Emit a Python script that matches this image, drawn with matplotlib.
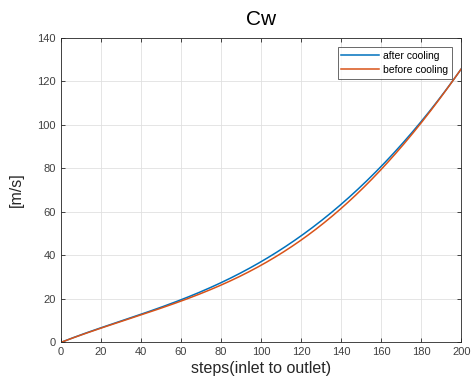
import matplotlib
matplotlib.use('Agg')
import matplotlib.pyplot as plt
import numpy as np

# valores
passos = [0, 20, 40, 60, 80, 100, 120, 140, 160, 180, 200]
cw_depois = [0, 6.1, 12.9, 20.0, 27.4, 36.6, 48.2, 64.0, 81.7, 100.5, 126.0]
cw_antes = [0, 6.0, 12.6, 19.4, 26.1, 35.2, 46.3, 61.9, 80.3, 100.0, 126.0]

plt.rcParams['font.family'] = ['Liberation Sans', 'DejaVu Sans']

cinza = '#262626'
azul = '#0072BD'
laranja = '#D95319'


def suavizar(x, y, n=400):
    # ajuste polinomial entre os pontos lidos (só para desenhar a curva lisa)
    xs = np.linspace(min(x), max(x), n)
    coef = np.polyfit(x, y, 5)
    return xs, np.polyval(coef, xs)


fig = plt.figure(figsize=(4.75, 3.87), dpi=100)
ax = fig.add_axes([0.128, 0.116, 0.843, 0.786])

xa, ya = suavizar(passos, cw_depois)
xb, yb = suavizar(passos, cw_antes)
ax.plot(xa, ya, color=azul, lw=1.1, label='after cooling')
ax.plot(xb, yb, color=laranja, lw=1.1, label='before cooling')

ax.set_xlim(0, 200)
ax.set_ylim(0, 140)
ax.set_xticks(range(0, 201, 20))
ax.set_yticks(range(0, 141, 20))
ax.grid(True, color='#e0e0e0', lw=0.6)
ax.set_axisbelow(True)
ax.tick_params(direction='in', top=True, right=True, labelsize=8,
               labelcolor='#404040', colors=cinza, length=3, width=0.6)
for s in ax.spines.values():
    s.set_color(cinza)
    s.set_linewidth(0.6)

ax.set_title('Cw', fontsize=15, color='black', pad=9)
ax.set_xlabel('steps(inlet to outlet)', fontsize=11.5, color=cinza, labelpad=3)
ax.set_ylabel('[m/s]', fontsize=11.5, color=cinza, labelpad=10)

leg = ax.legend(loc='upper right', fontsize=7.5, frameon=True, fancybox=False,
                edgecolor=cinza, borderaxespad=0.9, handlelength=3.6,
                handletextpad=0.4, borderpad=0.35, labelspacing=0.4)
leg.get_frame().set_linewidth(0.6)

fig.savefig('out.png', dpi=100)
